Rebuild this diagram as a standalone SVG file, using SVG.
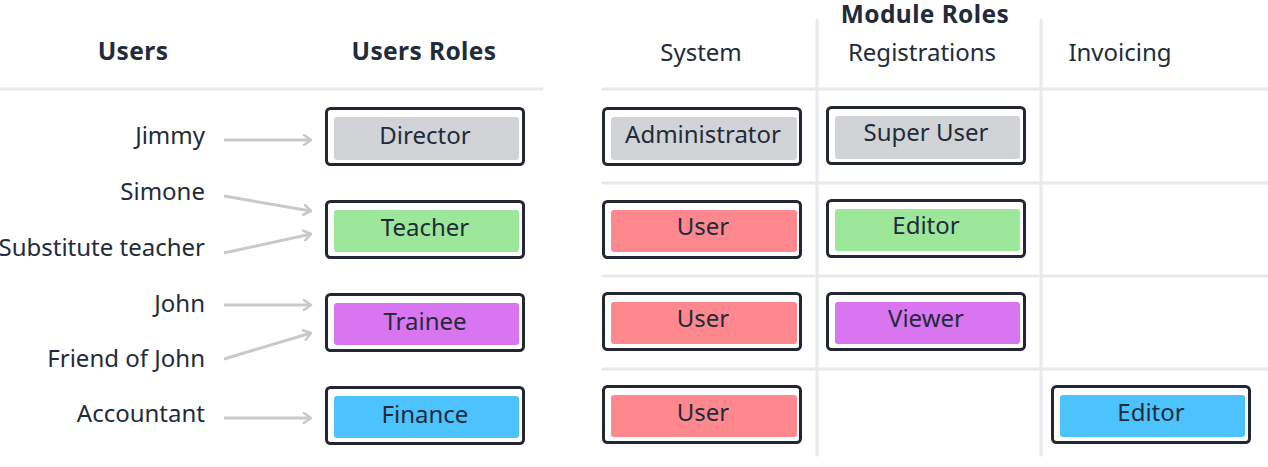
<svg xmlns="http://www.w3.org/2000/svg" width="1268" height="467" viewBox="0 0 1268 467">
<defs>
<style>
.t{font-family:"Noto Sans","Open Sans","DejaVu Sans",sans-serif;font-size:24px;fill:#222b3a}
.h{font-weight:bold;font-size:24.5px;letter-spacing:0.4px}
.c{text-anchor:middle}
.r{text-anchor:end}
.grid{stroke:#e8e9ec;stroke-width:3;fill:none;stroke-linecap:round}
.box{fill:#ffffff;stroke:#222733;stroke-width:3}
.gray{fill:#d1d3d7}
.green{fill:#9ce79a}
.purple{fill:#d975f0}
.blue{fill:#4dc3fe}
.red{fill:#ff888f}
.arr{stroke:#c9c9cc;stroke-width:3;fill:none;marker-end:url(#ah)}
</style>
<marker id="ah" viewBox="0 0 12 12" refX="10" refY="6" markerWidth="12" markerHeight="12" markerUnits="userSpaceOnUse" orient="auto">
<path d="M3,1 L10,6 L3,11" fill="none" stroke="#c9c9cc" stroke-width="2.6" stroke-linecap="round" stroke-linejoin="round"/>
</marker>
</defs>
<rect width="1268" height="467" fill="#ffffff"/>
<g id="grid">
<line class="grid" x1="0" y1="89" x2="542" y2="89"/>
<line class="grid" x1="603" y1="89" x2="1268" y2="89"/>
<line class="grid" x1="603" y1="183" x2="1268" y2="183"/>
<line class="grid" x1="603" y1="276" x2="1268" y2="276"/>
<line class="grid" x1="603" y1="369" x2="1268" y2="369"/>
<line class="grid" x1="817" y1="20" x2="817" y2="455"/>
<line class="grid" x1="1041" y1="20" x2="1041" y2="455"/>
</g>
<g id="headers">
<text class="t h c" x="133" y="60">Users</text>
<text class="t h c" x="424" y="60">Users Roles</text>
<text class="t h c" x="925" y="23">Module Roles</text>
<text class="t c" x="701" y="61">System</text>
<text class="t c" x="922" y="61">Registrations</text>
<text class="t c" x="1120" y="61">Invoicing</text>
</g>
<g id="users">
<text class="t r" x="205" y="144">Jimmy</text>
<text class="t r" x="205" y="200">Simone</text>
<text class="t r" x="205" y="256">Substitute teacher</text>
<text class="t r" x="205" y="312">John</text>
<text class="t r" x="205" y="367">Friend of John</text>
<text class="t r" x="205" y="422">Accountant</text>
</g>
<g id="connectors">
<line class="arr" x1="224" y1="140" x2="311" y2="140"/>
<line class="arr" x1="224" y1="196" x2="311" y2="211"/>
<line class="arr" x1="224" y1="253" x2="311" y2="234"/>
<line class="arr" x1="224" y1="305" x2="311" y2="305"/>
<line class="arr" x1="224" y1="359" x2="311" y2="333"/>
<line class="arr" x1="224" y1="418" x2="311" y2="418"/>
</g>
<g id="role-director">
<rect class="box" x="326.5" y="108.5" width="197" height="56" rx="4"/>
<rect class="gray" x="334" y="117" width="185" height="43" rx="3"/>
<text class="t c" x="425" y="144">Director</text>
</g>
<g id="role-teacher">
<rect class="box" x="326.5" y="201.5" width="197" height="56" rx="4"/>
<rect class="green" x="334" y="210" width="185" height="42" rx="3"/>
<text class="t c" x="425" y="236">Teacher</text>
</g>
<g id="role-trainee">
<rect class="box" x="326.5" y="294.5" width="197" height="56" rx="4"/>
<rect class="purple" x="334" y="303" width="185" height="42" rx="3"/>
<text class="t c" x="425" y="330">Trainee</text>
</g>
<g id="role-finance">
<rect class="box" x="326.5" y="387.5" width="197" height="56" rx="4"/>
<rect class="blue" x="334" y="396" width="185" height="42" rx="3"/>
<text class="t c" x="425" y="423">Finance</text>
</g>
<g id="sys-administrator">
<rect class="box" x="603.5" y="108.5" width="197" height="56" rx="4"/>
<rect class="gray" x="611" y="117" width="186" height="43" rx="3"/>
<text class="t c" x="703" y="143">Administrator</text>
</g>
<g id="sys-user-1">
<rect class="box" x="603.5" y="201.5" width="197" height="56" rx="4"/>
<rect class="red" x="611" y="210" width="186" height="42" rx="3"/>
<text class="t c" x="703" y="235">User</text>
</g>
<g id="sys-user-2">
<rect class="box" x="603.5" y="293.5" width="197" height="56" rx="4"/>
<rect class="red" x="611" y="302" width="186" height="42" rx="3"/>
<text class="t c" x="703" y="327">User</text>
</g>
<g id="sys-user-3">
<rect class="box" x="603.5" y="386.5" width="197" height="56" rx="4"/>
<rect class="red" x="611" y="395" width="186" height="42" rx="3"/>
<text class="t c" x="703" y="421">User</text>
</g>
<g id="reg-superuser">
<rect class="box" x="827.5" y="107.5" width="197" height="56" rx="4"/>
<rect class="gray" x="835" y="116" width="185" height="43" rx="3"/>
<text class="t c" x="926" y="141">Super User</text>
</g>
<g id="reg-editor">
<rect class="box" x="827.5" y="200.5" width="197" height="56" rx="4"/>
<rect class="green" x="835" y="209" width="185" height="42" rx="3"/>
<text class="t c" x="926" y="234">Editor</text>
</g>
<g id="reg-viewer">
<rect class="box" x="827.5" y="293.5" width="197" height="56" rx="4"/>
<rect class="purple" x="835" y="302" width="185" height="42" rx="3"/>
<text class="t c" x="926" y="327">Viewer</text>
</g>
<g id="inv-editor">
<rect class="box" x="1052.5" y="386.5" width="197" height="56" rx="4"/>
<rect class="blue" x="1060" y="395" width="185" height="42" rx="3"/>
<text class="t c" x="1151" y="421">Editor</text>
</g>
</svg>
